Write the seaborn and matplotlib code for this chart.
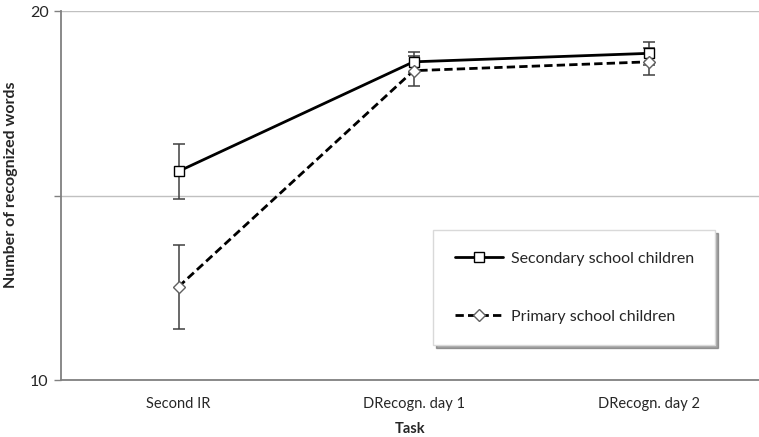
import numpy as np
import pandas as pd
import matplotlib
matplotlib.use('Agg')
import matplotlib.pyplot as plt
import seaborn as sns
from matplotlib.lines import Line2D

tasks = ['Second IR', 'DRecogn. day 1', 'DRecogn. day 2']
secondary = [15.66, 18.63, 18.86]
secondary_err = [0.74, 0.27, 0.32]
primary = [12.53, 18.39, 18.63]
primary_err = [1.14, 0.41, 0.37]
groups = ['Secondary school children', 'Primary school children']

sns.set_theme(style='white')
plt.rcParams['font.family'] = ['Lato', 'DejaVu Sans']

df = pd.DataFrame({
    'Task': tasks * 2,
    'Words': secondary + primary,
    'Group': [groups[0]] * 3 + [groups[1]] * 3,
})
df['x'] = [0, 1, 2] * 2

fig = plt.figure(figsize=(7.59, 4.37), dpi=100)
ax = fig.add_axes([0.0804, 0.1304, 0.9196, 0.8437])

# error bars first so markers sit on top
for vals, errs in [(secondary, secondary_err), (primary, primary_err)]:
    ax.errorbar(range(3), vals, yerr=errs, fmt='none', ecolor='#404040',
                elinewidth=1.1, capsize=4, capthick=1.1, zorder=2)

sns.lineplot(data=df, x='x', y='Words', hue='Group', style='Group',
             palette=['black', 'black'], dashes=[(None, None), (3, 1.5)],
             markers=['s', 'D'], ax=ax, linewidth=2, markersize=7,
             markerfacecolor='white', zorder=3, legend=False)
for line, mec in zip(ax.get_lines()[-2:], ['black', '#606060']):
    line.set_markeredgecolor(mec)
    line.set_markeredgewidth(1)
    line.set_markersize(6.5)

ax.set_xlim(-0.5, 2.47)
ax.set_ylim(10, 20)
ax.set_yticks([10, 15, 20])
ax.set_yticklabels(['10', '', '20'])
ax.set_xticks(range(3))
ax.set_xticklabels(tasks, fontsize=10.5)
ax.tick_params(axis='y', labelsize=11.5, length=5, width=1, color='#808080',
               direction='out', left=True, pad=4)
ax.tick_params(axis='x', length=0, pad=12)
ax.yaxis.grid(True, color='#c0c0c0', linewidth=1)
ax.set_axisbelow(True)
for side in ['top', 'right']:
    ax.spines[side].set_visible(False)
for side in ['left', 'bottom']:
    ax.spines[side].set_color('#808080')
    ax.spines[side].set_linewidth(1.3)

ax.set_xlabel('Task', fontsize=10.5, fontweight='bold', labelpad=8)
ax.set_ylabel('Number of recognized words', fontsize=11.5, fontweight='bold')
ax.yaxis.set_label_coords(-0.062, 0.53)

handles = [
    Line2D([], [], color='black', lw=2, marker='s', markersize=6.5,
           markerfacecolor='white', markeredgecolor='black', markeredgewidth=1),
    Line2D([], [], color='black', lw=2, ls=(0, (3, 1.5)), marker='D', markersize=6.5,
           markerfacecolor='white', markeredgecolor='#606060', markeredgewidth=1),
]
leg = ax.legend(handles, groups, loc='upper left', bbox_to_anchor=(0.533, 0.407),
                frameon=True, shadow=True, fancybox=False, fontsize=11.5,
                labelspacing=2.75, handlelength=3.0, handletextpad=0.5,
                borderpad=1.35, borderaxespad=0)
leg.get_frame().set_edgecolor('#d9d9d9')
leg.get_frame().set_linewidth(1)

fig.savefig('out.png', dpi=100)
